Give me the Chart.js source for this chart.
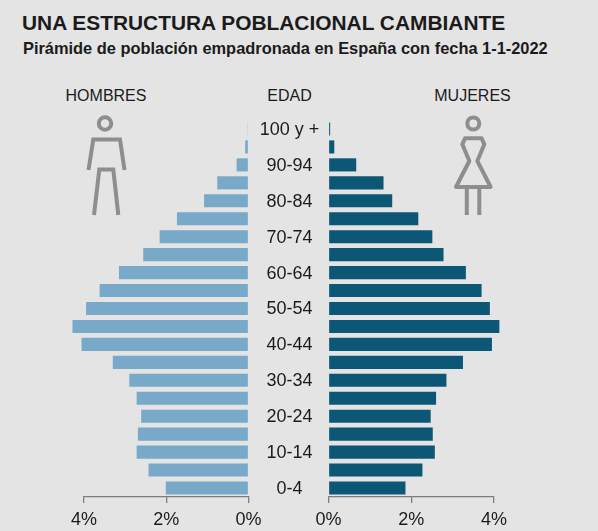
<!DOCTYPE html>
<html>
<head>
<meta charset="utf-8">
<script src="https://cdn.jsdelivr.net/npm/chart.js@4.4.1/dist/chart.umd.min.js"></script>
<style>
  html, body { margin: 0; padding: 0; background: #e4e4e4; }
  #wrap { position: relative; width: 598px; height: 531px; overflow: hidden; background: #e4e4e4; font-family: "Liberation Sans", Arial, sans-serif; }
  canvas { position: absolute; left: 0; top: 0; }
  .t { position: absolute; color: #1b1b1b; white-space: nowrap; line-height: 1; }
  #title { left: 22px; top: 13px; font-size: 20.9px; font-weight: 700; }
  #sub { left: 23px; top: 40px; font-size: 16.4px; font-weight: 700; }
  .hdr { top: 88px; font-size: 16px; transform: translateX(-50%); }
</style>
</head>
<body>
<div id="wrap">
  <div id="title" class="t">UNA ESTRUCTURA POBLACIONAL CAMBIANTE</div>
  <div id="sub" class="t">Pirámide de población empadronada en España con fecha 1-1-2022</div>
  <div class="t hdr" style="left:106px">HOMBRES</div>
  <div class="t hdr" style="left:289.5px">EDAD</div>
  <div class="t hdr" style="left:472.5px">MUJERES</div>
  <canvas id="cm" width="598" height="531"></canvas>
  <canvas id="cw" width="598" height="531"></canvas>
</div>
<script>
const ageGroups = ["100 y +","95-99","90-94","85-89","80-84","75-79","70-74","65-69","60-64","55-59","50-54","45-49","40-44","35-39","30-34","25-29","20-24","15-19","10-14","5-9","0-4"];
const menPct   = [0.02,0.08,0.29,0.76,1.08,1.74,2.16,2.56,3.15,3.62,3.95,4.28,4.06,3.30,2.90,2.72,2.61,2.69,2.72,2.43,2.01];
const womenPct = [0.04,0.14,0.67,1.33,1.54,2.17,2.51,2.78,3.32,3.70,3.90,4.13,3.95,3.25,2.85,2.60,2.47,2.52,2.57,2.27,1.86];
const axisTicks = [0, 2, 4];

const FONT = '"Liberation Sans", Arial, sans-serif';
const AXIS_COLOR = '#7d7d7d';
const ICON_COLOR = '#8e8e8e';

function xScale(reverse) {
  return {
    type: 'linear', min: 0, max: 4, reverse: reverse,
    afterBuildTicks: (s) => { s.ticks = axisTicks.map(v => ({ value: v })); },
    afterFit: (s) => { s.height = 34; },
    ticks: { callback: v => v + '%', color: '#1b1b1b', font: { family: FONT, size: 18, lineHeight: 1.2 }, padding: 6, maxRotation: 0, autoSkip: false },
    grid: { drawOnChartArea: false, drawTicks: true, tickLength: 6, color: AXIS_COLOR, lineWidth: 1.3 },
    border: { display: true, color: AXIS_COLOR, width: 1.3 }
  };
}

function baseOptions(reverse, pad) {
  return {
    responsive: false, animation: false, indexAxis: 'y',
    layout: { padding: pad },
    plugins: { legend: { display: false }, tooltip: { enabled: false } },
    scales: {
      x: xScale(reverse),
      y: { type: 'category', display: false, grid: { display: false } }
    }
  };
}

function strokeMan(ctx) {
  ctx.save();
  ctx.strokeStyle = ICON_COLOR; ctx.lineWidth = 4; ctx.lineJoin = 'miter'; ctx.lineCap = 'butt';
  ctx.beginPath(); ctx.arc(105, 123.5, 6.2, 0, Math.PI * 2); ctx.stroke();
  ctx.beginPath(); ctx.moveTo(88.5, 170); ctx.lineTo(93.3, 139.5); ctx.lineTo(120, 139.5); ctx.lineTo(124.5, 170); ctx.stroke();
  ctx.beginPath(); ctx.moveTo(94, 215); ctx.lineTo(99.3, 169.5); ctx.lineTo(113.3, 169.5); ctx.lineTo(118.3, 215); ctx.stroke();
  ctx.restore();
}
function strokeWoman(ctx) {
  ctx.save();
  ctx.strokeStyle = ICON_COLOR; ctx.lineWidth = 4; ctx.lineJoin = 'round';
  const P = (x, y) => [x / 3 + 440, y / 3 + 105];
  ctx.beginPath(); ctx.arc(473.3, 123.5, 6, 0, Math.PI * 2); ctx.stroke();
  const pts = [P(75,100), P(125,100), P(133,118), P(112,168), P(152,246), P(48,246), P(88,168), P(67,118)];
  ctx.beginPath(); ctx.moveTo(pts[0][0], pts[0][1]);
  for (let i = 1; i < pts.length; i++) ctx.lineTo(pts[i][0], pts[i][1]);
  ctx.closePath(); ctx.stroke();
  ctx.beginPath();
  ctx.moveTo(466.8, 188.5); ctx.lineTo(466.8, 215);
  ctx.moveTo(479.3, 188.5); ctx.lineTo(479.3, 215);
  ctx.stroke();
  ctx.restore();
}

const menChart = new Chart(document.getElementById('cm'), {
  type: 'bar',
  data: { labels: ageGroups, datasets: [{ data: menPct, backgroundColor: '#79a9c8', borderWidth: 0, categoryPercentage: 1, barPercentage: 0.73, clip: false }] },
  options: baseOptions(true, { left: 84, right: 349.5, top: 120, bottom: 0 }),
  plugins: [{ id: 'manIcon', afterDraw: (c) => strokeMan(c.ctx) }]
});

const womenChart = new Chart(document.getElementById('cw'), {
  type: 'bar',
  data: { labels: ageGroups, datasets: [{ data: womenPct, backgroundColor: '#0c5775', borderWidth: 0, categoryPercentage: 1, barPercentage: 0.73, clip: false }] },
  options: baseOptions(false, { left: 328.5, right: 104, top: 120, bottom: 0 }),
  plugins: [{
    id: 'ageLabels',
    afterDraw: (c) => {
      const ctx = c.ctx, ys = c.scales.y;
      ctx.save();
      ctx.fillStyle = '#1b1b1b';
      ctx.font = '18px ' + FONT;
      ctx.textAlign = 'center'; ctx.textBaseline = 'middle';
      ageGroups.forEach((lab, i) => {
        if (i % 2 === 0) ctx.fillText(lab, 289.5, ys.getPixelForValue(i) + 1);
      });
      ctx.restore();
      strokeWoman(ctx);
    }
  }]
});
</script>
</body>
</html>
